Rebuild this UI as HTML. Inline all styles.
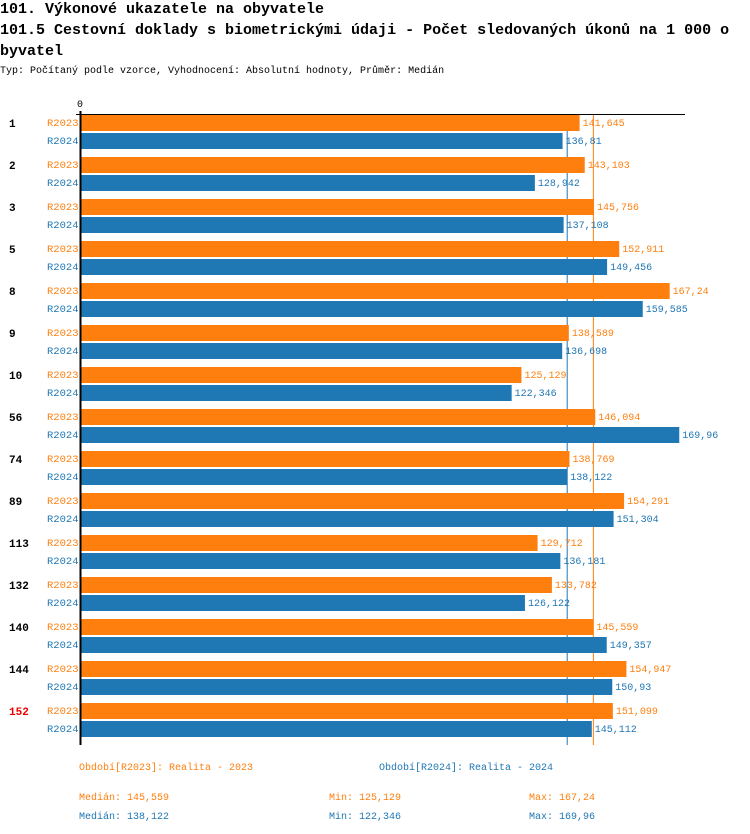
<!DOCTYPE html>
<html><head><meta charset="utf-8"><style>
body{margin:0;width:750px;height:834px;background:#fff;font-family:"Liberation Mono",monospace;overflow:hidden;position:relative}
.t{position:absolute;left:0;font-size:15px;font-weight:bold;line-height:21px;width:735px;word-break:break-all}
.sub{position:absolute;left:0;top:66px;font-size:10px}
svg{position:absolute;left:0;top:0}
svg text{font-family:"Liberation Mono",monospace}
</style></head><body>
<div class="t" style="top:-1px">101. Výkonové ukazatele na obyvatele</div>
<div class="t" style="top:20px">101.5 Cestovní doklady s biometrickými údaji - Počet sledovaných úkonů na 1 000 obyvatel</div>
<div class="sub">Typ: Počítaný podle vzorce, Vyhodnocení: Absolutní hodnoty, Průměr: Medián</div>
<svg id="c" width="750" height="834"></svg>
<script>
const categories=["1","2","3","5","8","9","10","56","74","89","113","132","140","144","152"];
const r2023=[141.645,143.103,145.756,152.911,167.24,138.589,125.129,146.094,138.769,154.291,129.712,133.782,145.559,154.947,151.099];
const r2024=[136.81,128.942,137.108,149.456,159.585,136.698,122.346,169.96,138.122,151.304,136.181,126.122,149.357,150.93,145.112];
const labels2023=["141,645","143,103","145,756","152,911","167,24","138,589","125,129","146,094","138,769","154,291","129,712","133,782","145,559","154,947","151,099"];
const labels2024=["136,81","128,942","137,108","149,456","159,585","136,698","122,346","169,96","138,122","151,304","136,181","126,122","149,357","150,93","145,112"];
const median2023=145.559, median2024=138.122;
const OR="#ff7f0e", BL="#1f77b4";
const svg=document.getElementById('c');
const NS="http://www.w3.org/2000/svg";
const x0=81, sc=3.52, top0=114, gh=42;
const X=v=>x0+v*sc;
function mk(t,a,txt){const e=document.createElementNS(NS,t);for(const k in a)e.setAttribute(k,a[k]);if(txt!==undefined)e.textContent=txt;svg.appendChild(e);return e;}
const bottom=top0+categories.length*gh+1;
let l=mk('line',{x1:X(median2024),x2:X(median2024),y1:top0,y2:bottom,stroke:BL,'stroke-width':1});


l=mk('line',{x1:X(median2023),x2:X(median2023),y1:top0,y2:bottom,stroke:OR,'stroke-width':1});


categories.forEach((c,i)=>{
  const y=top0+i*gh;
  let t=mk('text',{x:9,y:y+13,'font-size':11,'font-weight':'bold',fill:c==="152"?"#e00":"#000"},c);
  
  
  t=mk('text',{x:47,y:y+12,'font-size':10.5,fill:OR},"R2023");
  
  
  t=mk('text',{x:47,y:y+30,'font-size':10.5,fill:BL},"R2024");
  
  
  let r=mk('rect',{x:x0,y:y+1,width:X(r2023[i])-x0,height:16,fill:OR});
  
  
  r=mk('rect',{x:x0,y:y+19,width:X(r2024[i])-x0,height:16,fill:BL});
  
  
  t=mk('text',{x:X(r2023[i])+3,y:y+12,'font-size':10,fill:OR},labels2023[i]);
  
  
  t=mk('text',{x:X(r2024[i])+3,y:y+30,'font-size':10,fill:BL},labels2024[i]);
  
  
});
l=mk('line',{x1:76,x2:685,y1:top0+0.5,y2:top0+0.5,stroke:"#000",'stroke-width':1});


l=mk('line',{x1:80.5,x2:80.5,y1:top0-3,y2:bottom,stroke:"#000",'stroke-width':2});


let z=mk('text',{x:77,y:107,'font-size':10},"0");


const foot=[[79,770,OR,"Období[R2023]: Realita - 2023"],[379,770,BL,"Období[R2024]: Realita - 2024"],
[79,800,OR,"Medián: 145,559"],[329,800,OR,"Min: 125,129"],[529,800,OR,"Max: 167,24"],
[79,819,BL,"Medián: 138,122"],[329,819,BL,"Min: 122,346"],[529,819,BL,"Max: 169,96"]];
foot.forEach(f=>{const t=mk('text',{x:f[0],y:f[1],'font-size':10,fill:f[2]},f[3]);

});
</script>
</body></html>
